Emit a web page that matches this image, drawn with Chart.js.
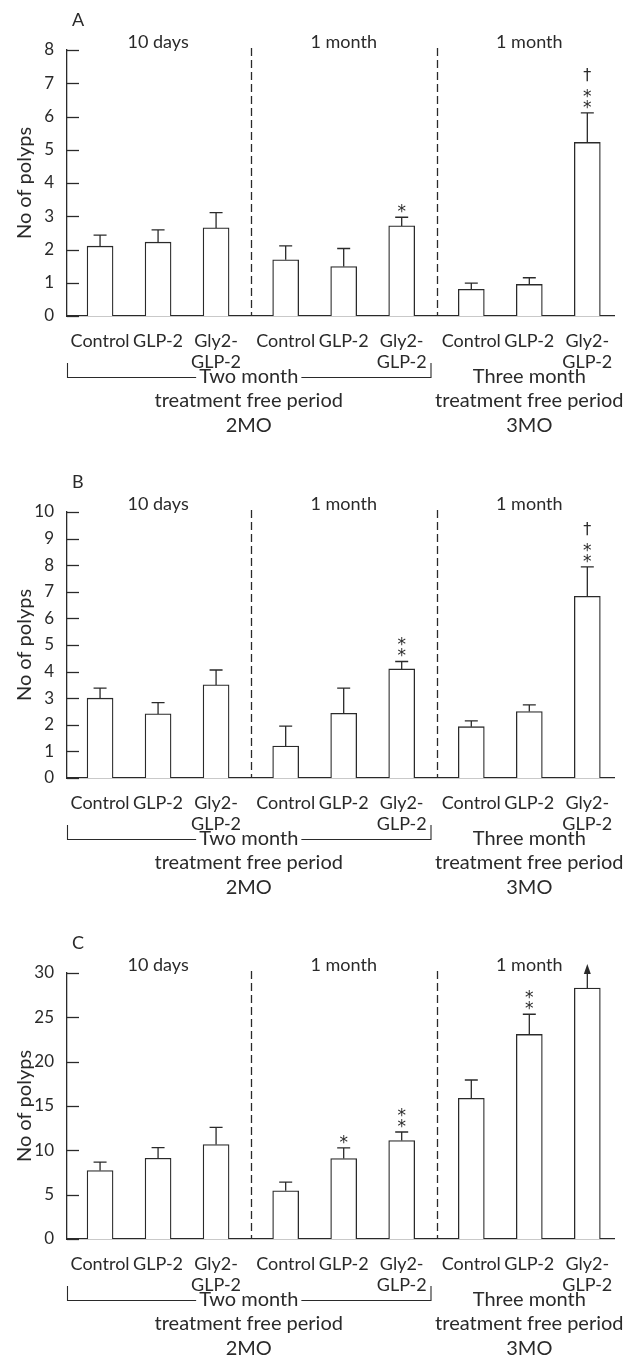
<!DOCTYPE html>
<html>
<head>
<meta charset="utf-8">
<script src="https://cdn.jsdelivr.net/npm/chart.js@4.4.0/dist/chart.umd.min.js"></script>
<style>
  html, body { margin: 0; padding: 0; background: #fff; }
  body { width: 631px; height: 1357px; position: relative; overflow: hidden; }
  .panel { position: absolute; left: 0; width: 631px; height: 434px; }
</style>
</head>
<body>
<div class="panel" style="top:0px"><canvas id="chartA" width="631" height="434"></canvas></div>
<div class="panel" style="top:462px"><canvas id="chartB" width="631" height="434"></canvas></div>
<div class="panel" style="top:923px"><canvas id="chartC" width="631" height="434"></canvas></div>
<script>
// labels
const tickLabels = [["Control"], ["GLP-2"], ["Gly2-", "GLP-2"]];
const groupLabels = ["10 days", "1 month", "1 month"];
const leftNote = ["Two month", "treatment free period", "2MO"];
const rightNote = ["Three month", "treatment free period", "3MO"];

// panel A
const meansA = [2.10, 2.22, 2.65, 1.69, 1.49, 2.71, 0.80, 0.95, 5.22];
const semA = [0.33, 0.37, 0.46, 0.42, 0.54, 0.26, 0.19, 0.20, 0.89];
const marksA = [[], [], [], [], [], ["*"], [], [], ["†", "*", "*"]];
const ticksA = [0, 1, 2, 3, 4, 5, 6, 7, 8];

// panel B
const meansB = [3.00, 2.41, 3.50, 1.20, 2.43, 4.10, 1.93, 2.50, 6.83];
const semB = [0.38, 0.42, 0.56, 0.75, 0.95, 0.28, 0.22, 0.25, 1.11];
const marksB = [[], [], [], [], [], ["*", "*"], [], [], ["†", "*", "*"]];
const ticksB = [0, 1, 2, 3, 4, 5, 6, 7, 8, 9, 10];

// panel C (last bar is off the scale: drawn with an arrow)
const meansC = [7.72, 9.11, 10.65, 5.43, 9.07, 11.10, 15.87, 23.07, 28.31];
const semC = [0.94, 1.19, 1.95, 0.98, 1.20, 0.97, 2.06, 2.28, null];
const marksC = [[], [], [], [], ["*"], ["*", "*"], [], ["*", "*"], []];
const arrowsC = [8];
const ticksC = [0, 5, 10, 15, 20, 25, 30];

const FONT = "Lato, 'Liberation Sans', sans-serif";
const MARK_FONT = "'DejaVu Sans', sans-serif";
const INK = "#2a2a2a";

// three groups of three bars, small extra gap between groups
const positions = [];
for (let g = 0; g < 3; g++) for (let i = 0; i < 3; i++) positions.push(g * 3.2 + i);

function makeChart(id, letter, means, sem, marks, yTicks, arrows) {
  const yMax = yTicks[yTicks.length - 1];

  const decor = {
    id: "decor_" + id,
    beforeDraw(chart) {
      const { ctx } = chart;
      ctx.save();
      ctx.fillStyle = "white";
      ctx.fillRect(0, 0, chart.width, chart.height);
      ctx.restore();
    },
    afterDraw(chart) {
      const { ctx, chartArea } = chart;
      const x = chart.scales.x, y = chart.scales.y;
      const bars = chart.getDatasetMeta(0).data;
      ctx.save();
      ctx.strokeStyle = INK;
      ctx.fillStyle = INK;
      ctx.lineWidth = 1.3;

      // inward y tick marks
      yTicks.forEach((v) => {
        const py = Math.round(y.getPixelForValue(v)) + 0.5;
        ctx.beginPath();
        ctx.moveTo(chartArea.left, py);
        ctx.lineTo(chartArea.left + 12, py);
        ctx.stroke();
      });

      // dashed separators
      ctx.setLineDash([8, 4]);
      [2.6, 5.8].forEach((v) => {
        const px = Math.round(x.getPixelForValue(v)) + 0.5;
        ctx.beginPath();
        ctx.moveTo(px, chartArea.top - 2);
        ctx.lineTo(px, chartArea.bottom);
        ctx.stroke();
      });
      ctx.setLineDash([]);

      // error bars, arrows, significance marks
      means.forEach((m, i) => {
        const bx = bars[i].x;
        const top = y.getPixelForValue(m);
        let markBase = top;
        if (sem[i] != null) {
          const et = y.getPixelForValue(m + sem[i]);
          ctx.beginPath();
          ctx.moveTo(bx, top);
          ctx.lineTo(bx, et);
          ctx.moveTo(bx - 6.5, et);
          ctx.lineTo(bx + 6.5, et);
          ctx.stroke();
          markBase = et;
        }
        if (arrows && arrows.includes(i)) {
          const tip = top - 24;
          ctx.beginPath();
          ctx.moveTo(bx, top);
          ctx.lineTo(bx, tip + 9);
          ctx.stroke();
          ctx.beginPath();
          ctx.moveTo(bx, tip);
          ctx.lineTo(bx - 3.5, tip + 10);
          ctx.lineTo(bx + 3.5, tip + 10);
          ctx.closePath();
          ctx.fill();
          markBase = tip;
        }
        ctx.textAlign = "center";
        ctx.textBaseline = "alphabetic";
        let cy = markBase - 10; // centre of the lowest mark
        marks[i].slice().reverse().forEach((s) => {
          if (s === "*") {
            ctx.font = "17px " + MARK_FONT;
            ctx.fillText(s, bx, cy + 10);
            cy -= 11;
          } else {
            cy -= 7;
            ctx.font = "16px " + MARK_FONT;
            ctx.fillText(s, bx, cy + 6);
            cy -= 14;
          }
        });
      });

      // panel letter and group headings
      ctx.textBaseline = "middle";
      ctx.textAlign = "left";
      ctx.font = "18px " + FONT;
      ctx.fillText(letter, 72, 20);
      ctx.textAlign = "center";
      ctx.font = "18px " + FONT;
      groupLabels.forEach((t, g) => {
        ctx.fillText(t, x.getPixelForValue(positions[g * 3 + 1]), chartArea.top - 8);
      });

      // bracket and period notes under the axis
      const by = chartArea.bottom + 61;
      const bl = chartArea.left;
      const br = x.getPixelForValue(5.8) - 6;
      const bc = (bl + br) / 2;
      ctx.font = "20px " + FONT;
      const tw = ctx.measureText(leftNote[0]).width / 2 + 3;
      ctx.lineWidth = 1.1;
      ctx.beginPath();
      ctx.moveTo(bl + 0.5, by - 14);
      ctx.lineTo(bl + 0.5, by + 0.5);
      ctx.lineTo(bc - tw, by + 0.5);
      ctx.moveTo(bc + tw, by + 0.5);
      ctx.lineTo(br + 0.5, by + 0.5);
      ctx.lineTo(br + 0.5, by - 14);
      ctx.stroke();
      const rc = x.getPixelForValue(positions[7]);
      const rows = [0, 23.5, 49];
      leftNote.forEach((t, k) => ctx.fillText(t, bc, by + rows[k]));
      rightNote.forEach((t, k) => ctx.fillText(t, rc, by + rows[k]));
      ctx.restore();
    },
  };

  return new Chart(document.getElementById(id), {
    type: "bar",
    data: {
      datasets: [{
        data: positions.map((p, i) => ({ x: p, y: means[i] })),
        backgroundColor: "white",
        borderColor: INK,
        borderWidth: 1.3,
        barThickness: 26,
      }],
    },
    options: {
      responsive: false,
      animation: false,
      layout: { padding: { top: 50, right: 17, left: 0, bottom: 0 } },
      plugins: { legend: { display: false }, tooltip: { enabled: false } },
      scales: {
        x: {
          type: "linear",
          offset: false,
          min: -0.57,
          max: 8.86,
          grid: { display: false },
          border: { color: INK, width: 1.3 },
          afterBuildTicks: (s) => { s.ticks = positions.map((v) => ({ value: v })); },
          afterFit: (s) => { s.height = 118; },
          ticks: {
            autoSkip: false,
            maxRotation: 0,
            padding: 6.5,
            color: INK,
            font: { family: FONT, size: 18, lineHeight: 1.17 },
            callback: (v, i) => tickLabels[i % 3],
          },
        },
        y: {
          min: 0,
          max: yMax,
          grid: { display: false },
          border: { color: INK, width: 1.3 },
          afterBuildTicks: (s) => { s.ticks = yTicks.map((v) => ({ value: v })); },
          afterFit: (s) => { s.width = 67; },
          ticks: { padding: 5, color: INK, font: { family: FONT, size: 17 } },
          title: {
            display: true,
            text: "No of polyps",
            color: INK,
            font: { family: FONT, size: 20, lineHeight: 1.2 },
            padding: { top: 13, bottom: 0 },
          },
        },
      },
    },
    plugins: [decor],
  });
}

makeChart("chartA", "A", meansA, semA, marksA, ticksA, null);
makeChart("chartB", "B", meansB, semB, marksB, ticksB, null);
makeChart("chartC", "C", meansC, semC, marksC, ticksC, arrowsC);
</script>
</body>
</html>
